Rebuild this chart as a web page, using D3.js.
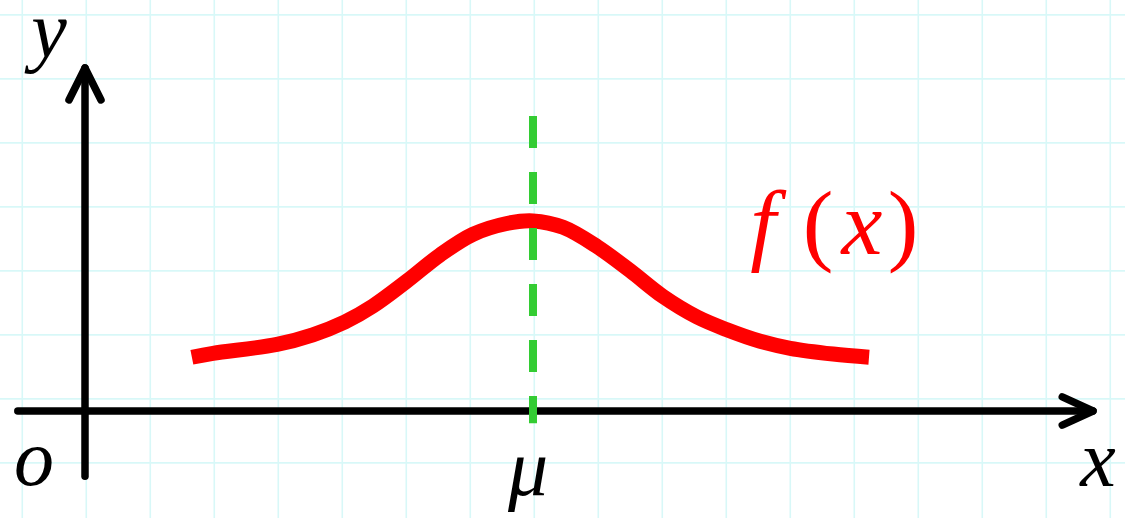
<!DOCTYPE html>
<html>
<head>
<meta charset="utf-8">
<script src="https://cdn.jsdelivr.net/npm/d3@7"></script>
<style>
  html, body { margin: 0; padding: 0; background: #fff; overflow: hidden; }
</style>
</head>
<body>
<div id="chart"></div>
<script>
// curve f(x) (grid units, origin at O)
const curveX = [1.67, 2.0, 3.0, 3.56, 4.06, 4.5, 5.03, 5.55, 6.06, 6.59, 7.0, 7.47, 8.0, 8.52, 9.03, 9.56, 10.03, 10.55, 11.02, 11.69, 12.25];
const curveY = [0.84, 0.9, 1.04, 1.19, 1.39, 1.64, 2.03, 2.44, 2.76, 2.93, 2.97, 2.87, 2.57, 2.19, 1.79, 1.47, 1.27, 1.09, 0.98, 0.89, 0.84];
const mu = 7;
const xAxisRange = [-1.05, 15.75];
const yAxisRange = [-1.02, 5.36];
const gridXs = d3.range(-0.98, 17, 1);
const gridYs = d3.range(-1.81, 6.3, 1);

const W = 1125, H = 518;
const unit = 64;
const ox = 85, oy = 411;
const serif = "'Liberation Serif', 'Times New Roman', 'DejaVu Serif', serif";

const svg = d3.select("#chart").append("svg")
    .attr("width", W)
    .attr("height", H);

// scales: 1 unit = 64px
const x = d3.scaleLinear().domain([0, 1]).range([ox, ox + unit]);
const y = d3.scaleLinear().domain([0, 1]).range([oy, oy - unit]);

// background grid
svg.append("g")
  .selectAll("line")
  .data(gridXs)
  .join("line")
    .attr("x1", d => x(d)).attr("x2", d => x(d))
    .attr("y1", 0).attr("y2", H)
    .attr("stroke", "#d8f8f8")
    .attr("stroke-width", 1.6);
svg.append("g")
  .selectAll("line")
  .data(gridYs)
  .join("line")
    .attr("y1", d => y(d)).attr("y2", d => y(d))
    .attr("x1", 0).attr("x2", W)
    .attr("stroke", "#d8f8f8")
    .attr("stroke-width", 1.6);

// axes
const axes = svg.append("g")
    .attr("stroke", "#000")
    .attr("stroke-width", 7.5)
    .attr("stroke-linecap", "round")
    .attr("stroke-linejoin", "round")
    .attr("fill", "none");

axes.append("line")
    .attr("x1", x(xAxisRange[0])).attr("x2", x(xAxisRange[1]))
    .attr("y1", y(0)).attr("y2", y(0));
axes.append("line")
    .attr("x1", x(0)).attr("x2", x(0))
    .attr("y1", y(yAxisRange[0])).attr("y2", y(yAxisRange[1]));

// arrow heads
const line = d3.line().x(d => x(d[0])).y(d => y(d[1]));
const xe = xAxisRange[1], ye = yAxisRange[1];
axes.append("path")
    .attr("d", line([[xe - 0.48, 0.22], [xe, 0], [xe - 0.48, -0.22]]));
axes.append("path")
    .attr("d", line([[-0.25, ye - 0.5], [0, ye], [0.25, ye - 0.5]]));

// red curve
const pts = curveX.map((d, i) => [d, curveY[i]]);
svg.append("path")
    .attr("d", d3.line().x(d => x(d[0])).y(d => y(d[1])).curve(d3.curveCatmullRom.alpha(0.5))(pts))
    .attr("fill", "none")
    .attr("stroke", "#ff0000")
    .attr("stroke-width", 15);

// green dashed line at mu
svg.append("line")
    .attr("x1", x(mu)).attr("x2", x(mu))
    .attr("y1", y(4.61)).attr("y2", y(-0.19))
    .attr("stroke", "#33cc33")
    .attr("stroke-width", 8)
    .attr("stroke-dasharray", "32,24");

// labels
function label(g, txt, px, py, size, color, italic) {
  g.append("text")
    .attr("x", px)
    .attr("y", py)
    .attr("font-family", serif)
    .attr("font-style", italic ? "italic" : "normal")
    .attr("font-size", size)
    .attr("fill", color)
    .attr("text-anchor", "middle")
    .text(txt);
}
const lab = svg.append("g");
label(lab, "y", 49, 57, 80, "#000", true);
label(lab, "o", 34, 485, 80, "#000", true);
label(lab, "x", 1098, 486, 80, "#000", true);
label(lab, "μ", 528, 495, 80, "#000", true);

label(lab, "f", 763, 254, 92, "#ff0000", true);
label(lab, "(", 818, 254, 92, "#ff0000", false);
label(lab, "x", 862, 254, 92, "#ff0000", true);
label(lab, ")", 903, 254, 92, "#ff0000", false);
</script>
</body>
</html>
